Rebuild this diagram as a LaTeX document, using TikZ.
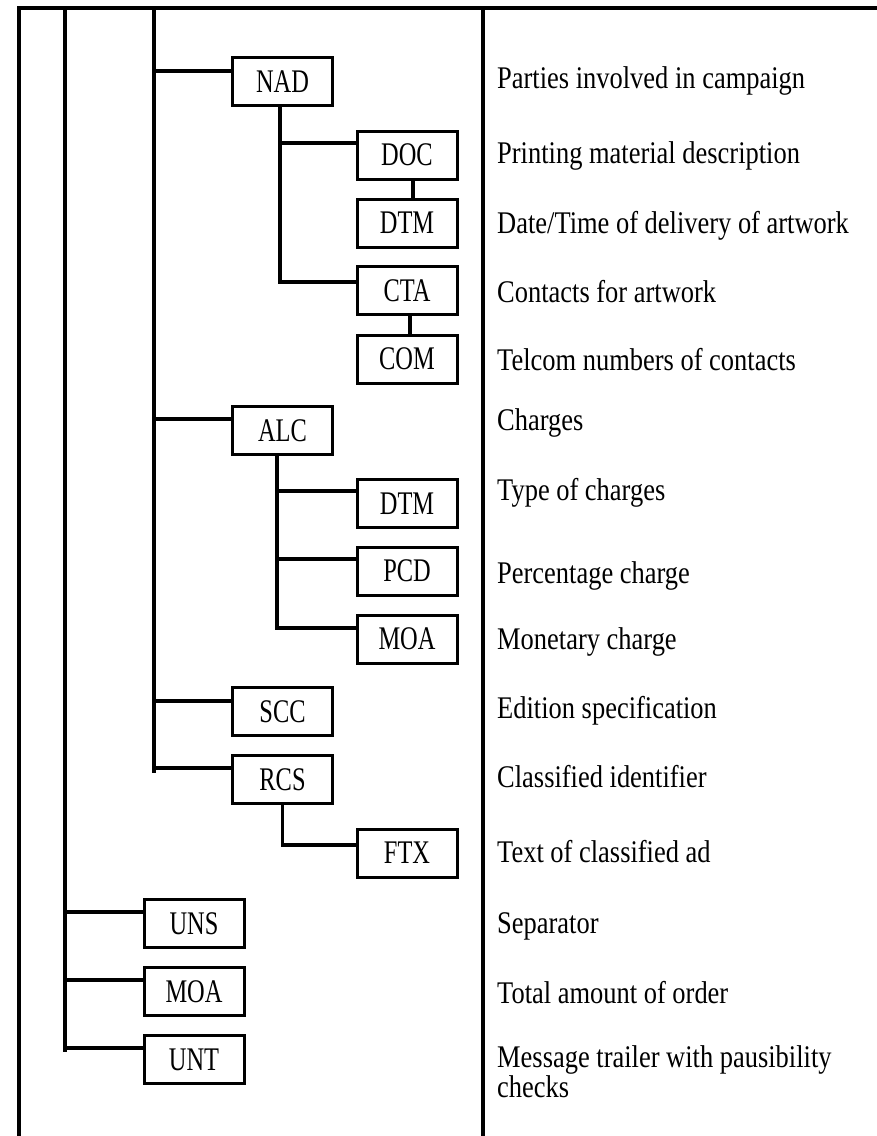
\documentclass[tikz,border=0pt]{standalone}
\usepackage{fontspec}
\setmainfont[FakeStretch=0.84]{Liberation Serif}
\newfontfamily\boxfont[FakeStretch=0.74]{Liberation Serif}
\usetikzlibrary{calc}
\tikzset{
  segbox/.style={draw, line width=3pt, minimum width=100pt, minimum height=48pt,
    inner sep=0pt, font=\boxfont\fontsize{33}{33}\selectfont},
  desc/.style={anchor=base west, inner sep=0pt, font=\fontsize{31.5}{25}\selectfont},
  link/.style={line width=3.2pt}
}
\begin{document}
\begin{tikzpicture}[x=1pt, y=1pt]
  \useasboundingbox (0,0) rectangle (877,-1136);
  % frame
  \draw[link] (19,-1136) -- (19,-8) -- (877,-8);
  \draw[link] (483,-8) -- (483,-1136);
  \coordinate (busa) at (65,-8);
  \coordinate (busb) at (154,-8);

  % segments
  \node[segbox] (nad) at (282.5,-81.5) {NAD};
  \node[segbox] (doc) at (407,-155) {DOC};
  \node[segbox] (dtma) at (407,-223) {DTM};
  \node[segbox] (cta) at (407,-290.5) {CTA};
  \node[segbox] (com) at (407,-359) {COM};
  \node[segbox] (alc) at (282.5,-430.5) {ALC};
  \node[segbox] (dtmb) at (407,-503.5) {DTM};
  \node[segbox] (pcd) at (407,-571) {PCD};
  \node[segbox] (moaa) at (407,-639) {MOA};
  \node[segbox] (scc) at (282.5,-711.5) {SCC};
  \node[segbox] (rcs) at (282.5,-779.5) {RCS};
  \node[segbox] (ftx) at (407,-853) {FTX};
  \node[segbox] (uns) at (194,-923.5) {UNS};
  \node[segbox] (moab) at (194,-991.5) {MOA};
  \node[segbox] (unt) at (194,-1059.5) {UNT};

  % where the connectors meet the boxes
  \coordinate (nadin) at ([yshift=10.5pt]nad.west);
  \coordinate (docin) at ([yshift=12pt]doc.west);
  \coordinate (ctain) at ([yshift=8.5pt]cta.west);
  \coordinate (alcin) at ([yshift=11.5pt]alc.west);
  \coordinate (dtmbin) at ([yshift=12.5pt]dtmb.west);
  \coordinate (pcdin) at ([yshift=12pt]pcd.west);
  \coordinate (moaain) at ([yshift=11pt]moaa.west);
  \coordinate (sccin) at ([yshift=10.5pt]scc.west);
  \coordinate (rcsin) at ([yshift=11.5pt]rcs.west);
  \coordinate (ftxin) at ([yshift=8pt]ftx.west);
  \coordinate (unsin) at ([yshift=11.5pt]uns.west);
  \coordinate (moabin) at ([yshift=11.5pt]moab.west);
  \coordinate (untin) at ([yshift=11.5pt]unt.west);
  \coordinate (nadsub) at ([xshift=-2.5pt]nad.south);
  \coordinate (alcsub) at ([xshift=-5.5pt]alc.south);

  % buses
  \draw[link] (busa) -- ($(untin -| busa)+(0,-4)$);
  \draw[link] (busb) -- ($(rcsin -| busb)+(0,-5)$);
  \draw[link] (unsin -| busa) -- (unsin);
  \draw[link] (moabin -| busa) -- (moabin);
  \draw[link] (untin -| busa) -- (untin);
  \draw[link] (nadin -| busb) -- (nadin);
  \draw[link] (alcin -| busb) -- (alcin);
  \draw[link] (sccin -| busb) -- (sccin);
  \draw[link] (rcsin -| busb) -- (rcsin);

  % NAD group
  \draw[link] (nadsub) |- (ctain);
  \draw[link] (docin -| nadsub) -- (docin);
  \draw[link] ([xshift=6pt]doc.south) -- ([xshift=6pt]dtma.north);
  \draw[link] ([xshift=3pt]cta.south) -- ([xshift=3pt]com.north);

  % ALC group
  \draw[link] (alcsub) |- (moaain);
  \draw[link] (dtmbin -| alcsub) -- (dtmbin);
  \draw[link] (pcdin -| alcsub) -- (pcdin);

  % RCS group
  \draw[link] (rcs.south) |- (ftxin);

  % descriptions
  \node[desc] (dnad) at (497,-88) {Parties involved in campaign};
  \node[desc] (ddoc) at (497,-163) {Printing material description};
  \node[desc] (ddtma) at (497,-233) {Date/Time of delivery of artwork};
  \node[desc] (dcta) at (497,-302) {Contacts for artwork};
  \node[desc] (dcom) at (497,-370) {Telcom numbers of contacts};
  \node[desc] (dalc) at (497,-430) {Charges};
  \node[desc] (ddtmb) at (497,-500) {Type of charges};
  \node[desc] (dpcd) at (497,-583) {Percentage charge};
  \node[desc] (dmoaa) at (497,-649) {Monetary charge};
  \node[desc] (dscc) at (497,-718) {Edition specification};
  \node[desc] (drcs) at (497,-787) {Classified identifier};
  \node[desc] (dftx) at (497,-862) {Text of classified ad};
  \node[desc] (duns) at (497,-933) {Separator};
  \node[desc] (dmoab) at (497,-1003) {Total amount of order};
  \node[desc, align=left] (dunt) at (497,-1097) {Message trailer with pausibility\\checks};
\end{tikzpicture}
\end{document}
